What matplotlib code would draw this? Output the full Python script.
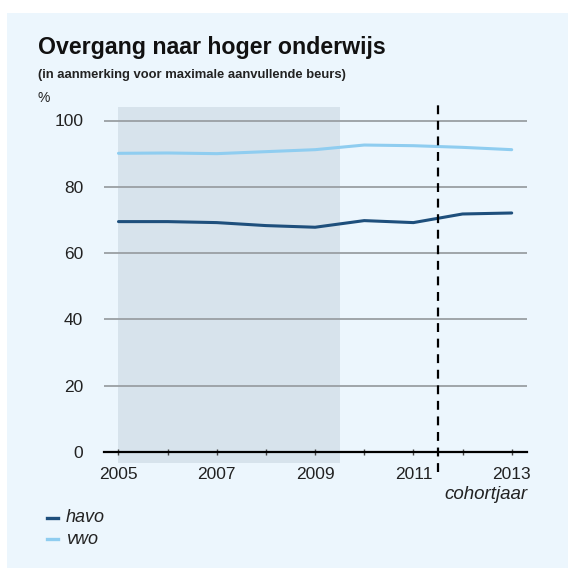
import matplotlib
matplotlib.use("Agg")
import matplotlib.pyplot as plt
from matplotlib.patches import Rectangle

plt.rcParams['font.family'] = ['Liberation Sans', 'DejaVu Sans']

years = [2005, 2006, 2007, 2008, 2009, 2010, 2011, 2012, 2013]
havo = [69.5, 69.5, 69.2, 68.3, 67.8, 69.8, 69.2, 71.8, 72.1]
vwo = [90.1, 90.2, 90.0, 90.6, 91.2, 92.6, 92.4, 91.9, 91.2]
yticks = [0, 20, 40, 60, 80, 100]
xtick_labels = [2005, 2007, 2009, 2011, 2013]
shade_span = (2005, 2009.5)
cutoff_year = 2011.5

W = H = 568
fig = plt.figure(figsize=(W / 100, H / 100), dpi=100)
fig.patch.set_facecolor('white')

# light blue panel
fig.patches.append(Rectangle((7 / W, 0), 1 - 7 / W, 1 - 13 / H, transform=fig.transFigure,
                             facecolor='#ecf6fd', edgecolor='none', zorder=-5))

# axes placement in pixels
ax_left, ax_right = 104, 527
ax_top, ax_bottom = 100, 480
ax = fig.add_axes([ax_left / W, 1 - ax_bottom / H, (ax_right - ax_left) / W, (ax_bottom - ax_top) / H])
ax.set_facecolor('none')
ax.set_zorder(2)

px_per_year = (511.7 - 118.5) / 8
x0 = 2005 - (118.5 - ax_left) / px_per_year
x1 = 2013 + (ax_right - 511.7) / px_per_year
px_per_unit = 3.315
zero_px = 452
y0 = -(ax_bottom - zero_px) / px_per_unit
y1 = (zero_px - ax_top) / px_per_unit
ax.set_xlim(x0, x1)
ax.set_ylim(y0, y1)

# shaded region
shade_bot = -(463 - zero_px) / px_per_unit
shade_top = (zero_px - 107) / px_per_unit
ax.add_patch(Rectangle((shade_span[0], shade_bot), shade_span[1] - shade_span[0], shade_top - shade_bot,
                       facecolor='#d7e3ec', edgecolor='none', zorder=0))

# gridlines
for t in yticks[1:]:
    ax.axhline(t, color='#9a9fa3', lw=1.3, zorder=1)

ax.plot(years, vwo, color='#8fcdf0', lw=2.2, zorder=3, solid_capstyle='round')
ax.plot(years, havo, color='#1e4f7c', lw=2.2, zorder=3, solid_capstyle='round')

ax.axvline(cutoff_year, ymin=0.02, ymax=1, color='black', lw=1.6, ls=(0, (4, 3)), zorder=4)

for s in ['top', 'right', 'left']:
    ax.spines[s].set_visible(False)
ax.spines['bottom'].set_position(('data', 0))
ax.spines['bottom'].set_color('black')
ax.spines['bottom'].set_linewidth(1.6)
ax.spines['bottom'].set_zorder(5)

ax.set_xticks(years)
ax.set_xticklabels([str(y) if y in xtick_labels else '' for y in years])
ax.tick_params(axis='x', direction='inout', length=5, width=1, color='#444444',
               labelsize=12.5, pad=8, labelcolor='#222222')
ax.set_yticks(yticks)
ax.set_yticklabels([str(t) for t in yticks])
ax.tick_params(axis='y', length=0, labelsize=12.5, pad=15, labelcolor='#222222')

# titles
fig.text(38 / W, 1 - 54 / H, 'Overgang naar hoger onderwijs', fontsize=16.7, fontweight='bold',
         color='#111111', ha='left', va='baseline')
fig.text(38 / W, 1 - 78 / H, '(in aanmerking voor maximale aanvullende beurs)', fontsize=9.4,
         fontweight='bold', color='#222222', ha='left', va='baseline')
fig.text(38 / W, 1 - 102 / H, '%', fontsize=10, color='#222222', ha='left', va='baseline')
fig.text(528 / W, 1 - 499 / H, 'cohortjaar', fontsize=13.5, style='italic', color='#222222',
         ha='right', va='baseline')

# legend
for i, (name, col) in enumerate([('havo', '#1e4f7c'), ('vwo', '#8fcdf0')]):
    yy = 1 - (518 + 21 * i) / H
    fig.lines.append(plt.Line2D([47 / W, 58 / W], [yy, yy], transform=fig.transFigure,
                                color=col, lw=2.4))
    fig.text(66 / W, yy, name, fontsize=13, style='italic', color='#222222', ha='left', va='center')

fig.savefig('out.png', dpi=100, facecolor='white')
